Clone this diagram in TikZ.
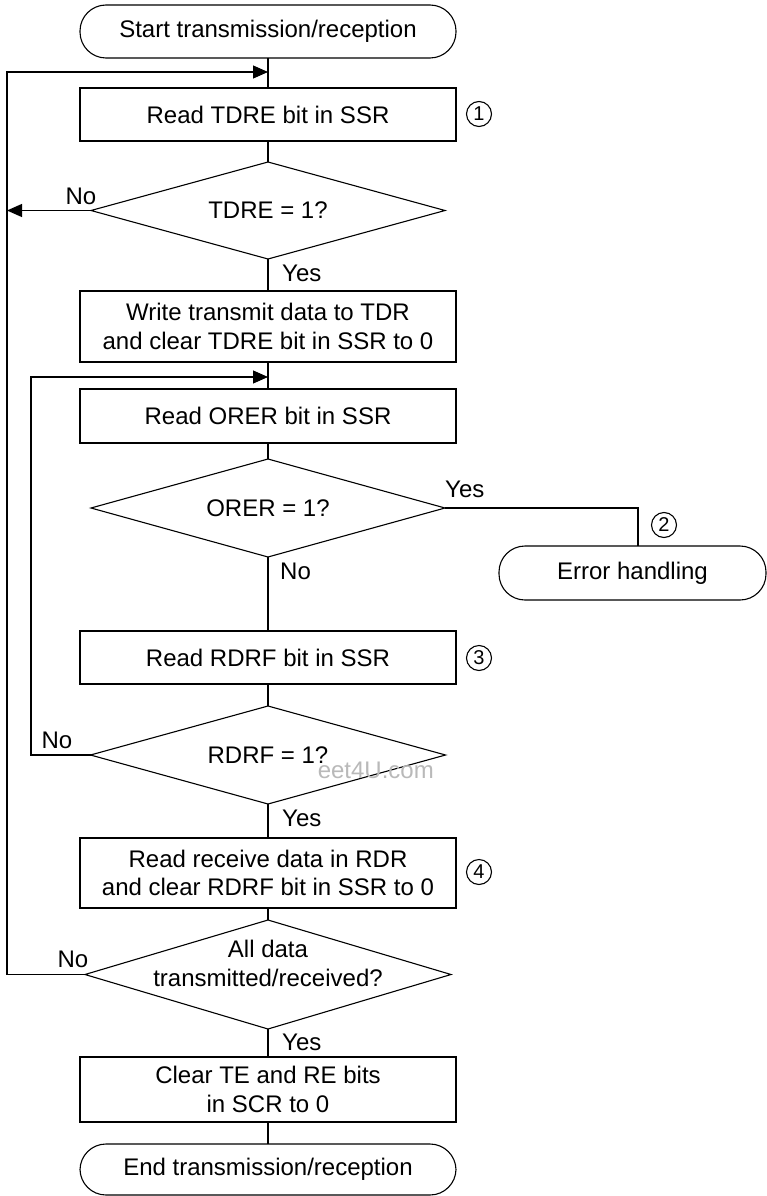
\documentclass[tikz,border=0pt]{standalone}
\usepackage{fontspec}
\setmainfont{Liberation Sans}
\usetikzlibrary{arrows.meta,shapes.geometric}
\begin{document}
\begin{tikzpicture}[x=1pt,y=-1pt,
  every node/.style={font=\fontsize{24}{28.5}\selectfont},
  line/.style={line width=1.1pt},
  box/.style={draw, line width=1.1pt, fill=white, minimum width=376pt, inner sep=0pt, outer sep=0pt, align=center},
  term/.style={box, rounded corners=26pt},
  dia/.style={draw, diamond, line width=1.1pt, fill=white, inner sep=0pt, outer sep=0pt},
  lbl/.style={inner sep=0pt},
  circ/.style={draw, circle, line width=1.1pt, inner sep=0pt, minimum size=25pt, font=\fontsize{20}{20}\selectfont},
  arr/.style={line width=1.1pt, -{Triangle[length=15pt,width=13pt]}}
]
\useasboundingbox (0,0) rectangle (767,1196);

% nodes
\node[term, minimum height=53pt] (start) at (268,31.5) {Start transmission/reception};
\node[box, minimum height=53pt] (b1) at (268,114.5) {Read TDRE bit in SSR};
\node[dia, minimum width=354pt, minimum height=97pt, label={center:TDRE = 1?}] (d1) at (268,210.5) {};
\node[box, minimum height=71pt] (b2) at (268,326.5) {Write transmit data to TDR\\and clear TDRE bit in SSR to 0};
\node[box, minimum height=54pt] (b3) at (268,416) {Read ORER bit in SSR};
\node[dia, minimum width=354pt, minimum height=98pt, label={center:ORER = 1?}] (d2) at (268,508) {};
\node[term, minimum width=267pt, minimum height=54pt] (err) at (632.5,573) {Error handling};
\node[box, minimum height=53pt] (b4) at (268,657.5) {Read RDRF bit in SSR};
\node[dia, minimum width=355pt, minimum height=98pt, label={center:RDRF = 1?}] (d3) at (268,755) {};
\node[text=gray!55, anchor=east, inner sep=0pt] (wm) at (434,770) {eet4U.com};
\node[box, minimum height=70pt] (b5) at (268,873) {Read receive data in RDR\\and clear RDRF bit in SSR to 0};
\node[dia, minimum width=366pt, minimum height=109pt, label={[align=center,yshift=11pt]center:All data\\transmitted/received?}] (d4) at (268,974.5) {};
\node[box, minimum height=65pt] (b6) at (268,1089.5) {Clear TE and RE bits\\in SCR to 0};
\node[term, minimum height=51pt] (end) at (268,1169.5) {End transmission/reception};

% circled numbers
\node[circ] (c1) at (479,114) {1};
\node[circ] (c2) at (664,525) {2};
\node[circ] (c3) at (479,658) {3};
\node[circ] (c4) at (479,872) {4};

% labels
\node[lbl] (no1) at (81,196) {No};
\node[lbl, anchor=west] (yes1) at (282,273) {Yes};
\node[lbl, anchor=west] (yes2) at (445,489) {Yes};
\node[lbl, anchor=west] (no2) at (280,571) {No};
\node[lbl] (no3) at (57,740) {No};
\node[lbl, anchor=west] (yes3) at (282,818) {Yes};
\node[lbl] (no4) at (73,959) {No};
\node[lbl, anchor=west] (yes4) at (282,1042) {Yes};

% junction coordinates
\coordinate (j1) at (268,72);
\coordinate (L1) at (7,72);
\coordinate (j2) at (268,377);
\coordinate (L2) at (31,377);
\coordinate (E) at ([xshift=5.5pt]err.north);

% main flow
\draw[line] (start) -- (b1);
\draw[line] (b1) -- (d1);
\draw[line] (d1) -- (b2);
\draw[line] (b2) -- (b3);
\draw[line] (b3) -- (d2);
\draw[line] (d2) -- (b4);
\draw[line] (b4) -- (d3);
\draw[line] (d3) -- (b5);
\draw[line] (b5) -- (d4);
\draw[line] (d4) -- (b6);
\draw[line] (b6) -- (end);

% branches
\draw[arr] (d1.west) -- (d1.west -| L1);
\draw[arr] (d4.west) -- (d4.west -| L1) -- (L1) -- (j1);
\draw[arr] (d3.west) -- (d3.west -| L2) -- (L2) -- (j2);
\draw[line] (d2.east) -- (d2.east -| E) -- (E);
\end{tikzpicture}
\end{document}
